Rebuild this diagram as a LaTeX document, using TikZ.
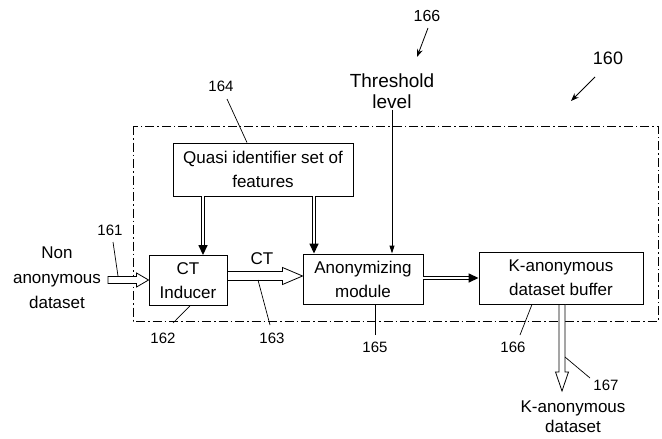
\documentclass[tikz,border=0pt]{standalone}
\usepackage{fontspec}
\setmainfont{Liberation Sans}
\usetikzlibrary{calc,arrows.meta}
\newcommand{\hollowH}[5]{% start, end, half shaft, half head, head length (rightwards)
  \draw[hollow] ($(#1)+(0,-#3)$) -- ($(#2)+(-#5,-#3)$) -- ($(#2)+(-#5,-#4)$) -- (#2)
    -- ($(#2)+(-#5,#4)$) -- ($(#2)+(-#5,#3)$) -- ($(#1)+(0,#3)$) -- cycle;}
\newcommand{\hollowV}[5]{% start, end, half shaft, half head, head length (downwards)
  \draw[hollow] ($(#1)+(-#3,0)$) -- ($(#2)+(-#3,-#5)$) -- ($(#2)+(-#4,-#5)$) -- (#2)
    -- ($(#2)+(#4,-#5)$) -- ($(#2)+(#3,-#5)$) -- ($(#1)+(#3,0)$) -- cycle;}
\begin{document}
\begin{tikzpicture}[x=1pt,y=-1pt,
  every node/.style={inner sep=0pt},
  txt/.style={font=\fontsize{17}{24}\selectfont, align=center},
  num/.style={font=\fontsize{15}{18}\selectfont},
  box/.style={draw, line width=0.9pt, txt},
  hollow/.style={draw, line width=0.8pt, fill=white},
  dbl/.style={double=white, double distance=1.5pt, line width=1.5pt,
    -{Triangle[length=10pt,width=9pt]}},
  lead/.style={line width=0.7pt},
  ptr/.style={line width=0.8pt, -{Stealth[length=8pt,width=6pt]}},
  frame/.style={line width=0.8pt, dash pattern=on 9pt off 3pt on 1.5pt off 3pt}
]
\useasboundingbox (0,0) rectangle (662,439);
\draw[frame] (133,126) rectangle (658,321);

% boxes
\node[box, minimum width=180pt, minimum height=53pt] (quasi) at (263,169.5) {Quasi identifier set of\\features};
\node[box, minimum width=78pt, minimum height=50pt] (ct) at (188,280.5) {CT\\Inducer};
\node[box, minimum width=120pt, minimum height=50pt] (anon) at (363,279) {Anonymizing\\module};
\node[box, minimum width=164pt, minimum height=52pt] (kbuf) at (561,278) {K-anonymous\\dataset buffer};

% free texts
\node[txt, font=\fontsize{17}{25}\selectfont] (nonanon) at (57,278) {Non\\anonymous\\dataset};
\node[txt, font=\fontsize{19}{21}\selectfont] (thr) at (392,91) {Threshold\\level};
\node[txt, font=\fontsize{17}{20}\selectfont] (kout) at (573,417) {K-anonymous\\dataset};
\node[txt] (ctlbl) at (262,259) {CT};

% hollow arrows
\coordinate (h1s) at (108,280);
\coordinate (h1e) at (ct.west |- h1s);
\hollowH{h1s}{h1e}{3.5}{7}{12}
\coordinate (h2s) at (ct.east |- 0,276);
\coordinate (h2e) at (anon.west |- h2s);
\hollowH{h2s}{h2e}{4.5}{8.5}{20}
\coordinate (h3s) at (kbuf.south -| 562,0);
\coordinate (h3e) at (562,391);
\hollowV{h3s}{h3e}{3}{6.5}{19}

% double arrows
\coordinate (q1) at (203,0);
\coordinate (q2) at (314,0);
\draw[dbl] (quasi.south -| q1) -- (ct.north -| q1);
\draw[dbl] (quasi.south -| q2) -- (anon.north -| q2);
\coordinate (m1) at (0,278);
\draw[dbl] (anon.east |- m1) -- (kbuf.west |- m1);

% threshold line
\draw[line width=0.9pt, -{Triangle[length=8pt,width=5pt]}] (thr.south) ++(0,1) -- (anon.north -| thr.south);

% reference numerals
\node[num] (n164) at (221,86) {164};
\draw[lead] (227,99) -- (quasi.north -| 247,0);
\node[num, font=\fontsize{16}{18}\selectfont] (n166t) at (427,16) {166};
\draw[ptr] (428,28) -- (417,57);
\node[num, font=\fontsize{18}{20}\selectfont] (n160) at (608,58) {160};
\draw[ptr] (595,77) -- (571,101);
\node[num] (n161) at (110,230) {161};
\draw[lead] (113,242) -- (118,276);
\node[num] (n162) at (163,338) {162};
\draw[lead] (173,323) -- (ct.south -| 190,0);
\node[num] (n163) at (272,338) {163};
\draw[lead] (270,325) -- (258,280);
\node[num] (n165) at (375,347) {165};
\draw[lead] (375,335) -- (anon.south -| 375,0);
\node[num] (n166) at (513,347) {166};
\draw[lead] (520,335) -- (kbuf.south -| 532,0);
\node[num] (n167) at (606,385) {167};
\draw[lead] (590,378) -- (565,357);
\end{tikzpicture}
\end{document}
